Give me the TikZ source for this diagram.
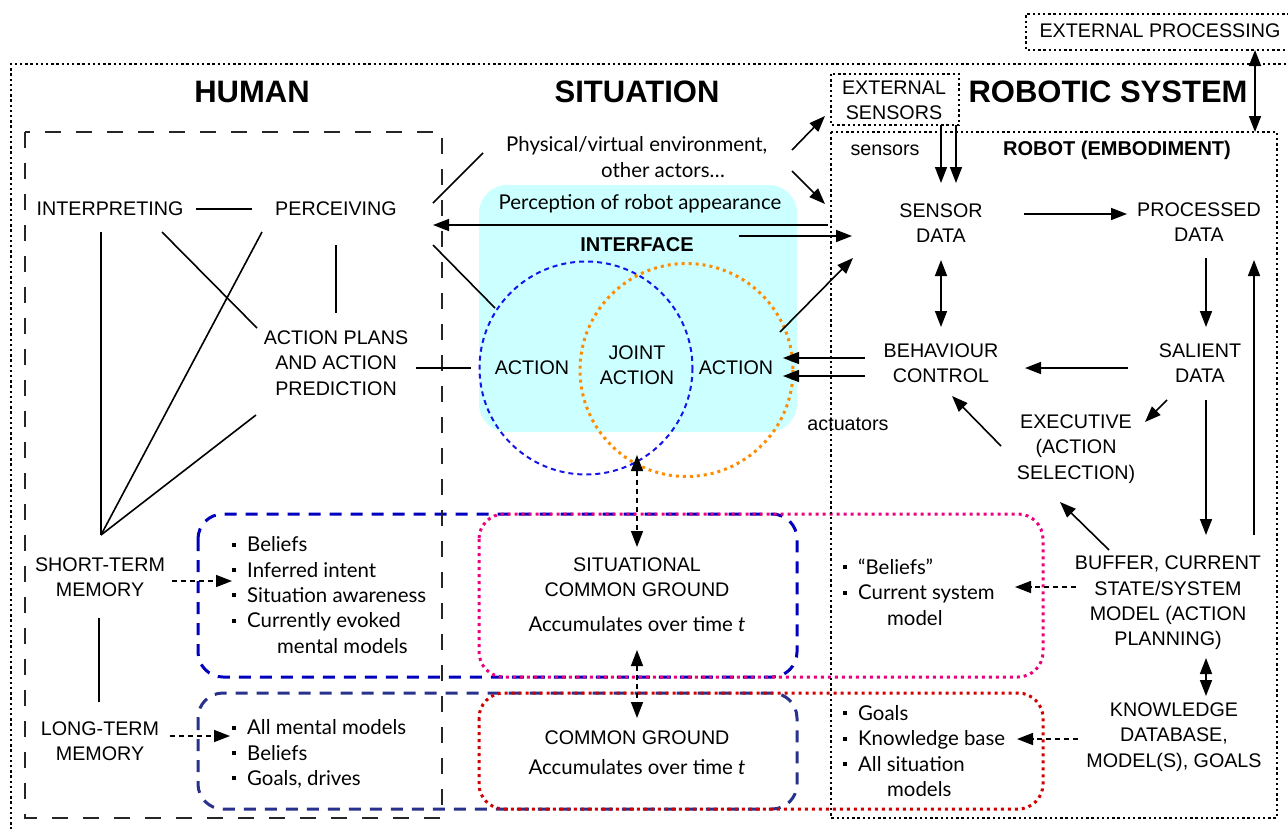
\documentclass[tikz,border=0pt]{standalone}
\usepackage{fontspec}
\setmainfont{Liberation Sans}
\newfontfamily\latof{Lato}
\usetikzlibrary{arrows.meta}
\definecolor{cyanbg}{RGB}{204,255,255}
\definecolor{cblue}{RGB}{20,20,235}
\definecolor{boxblue}{RGB}{0,0,190}
\definecolor{navyc}{RGB}{40,50,140}
\definecolor{pinkc}{RGB}{235,0,125}
\definecolor{redc}{RGB}{210,0,0}
\definecolor{orangec}{RGB}{255,140,0}
\newcommand\bul{\makebox[15pt][l]{\rule[5pt]{4pt}{4pt}}}
\tikzset{
  lab/.style={font=\fontsize{19.7}{25.3}\selectfont, align=center, inner sep=1pt},
  mix/.style={font=\latof\fontsize{20.4}{25.3}\selectfont, align=left, inner sep=1pt},
  hdr/.style={font=\bfseries\fontsize{31}{36}\selectfont, inner sep=1pt},
  bhdr/.style={font=\bfseries\fontsize{20}{24}\selectfont, inner sep=1pt},
  ln/.style={line width=1.6pt},
  tip/.tip={Triangle[length=16pt,width=12pt]},
  arr/.style={line width=1.6pt, -tip},
  darr/.style={line width=1.6pt, tip-tip},
  dasharr/.style={line width=1.5pt, dash pattern=on 5pt off 4pt, -tip},
  ddarr/.style={line width=1.5pt, dash pattern=on 5pt off 4pt, tip-tip},
  blackdots/.style={line width=2.4pt, dash pattern=on 2.4pt off 2.8pt},
  colordots/.style={line width=3pt, dash pattern=on 3pt off 4pt, rounded corners=25pt},
  coldash/.style={line width=3pt, dash pattern=on 12pt off 9pt, rounded corners=25pt},
}
\begin{document}
\begin{tikzpicture}[x=1pt,y=-1pt]
\useasboundingbox (0,0) rectangle (1288,828);

% interface background
\fill[cyanbg, rounded corners=28pt] (479,185) rectangle (797,432);

% circles
\draw[cblue, line width=2pt, dash pattern=on 5pt off 4pt] (586,368) circle[radius=106.5];
\draw[orangec, line width=3pt, dash pattern=on 3pt off 4pt] (686.5,370) circle[radius=106.5];

% memory boxes
\draw[boxblue, coldash] (198,514) rectangle (797,677);
\draw[navyc, coldash] (198,693) rectangle (797,809);
\draw[pinkc, colordots] (479,514) rectangle (1043,677);
\draw[redc, colordots] (479,693) rectangle (1043,809);

% frames
\draw[blackdots] (11,835) -- (11,64) -- (1295,64);
\draw[blackdots] (1295,14) -- (1026,14) -- (1026,50) -- (1295,50);
\draw[blackdots] (831,74) rectangle (959,125);
\draw[blackdots] (831,132) rectangle (1277,818);
\draw[line width=1.2pt, dash pattern=on 16pt off 15pt, black!85] (25,132) rectangle (442,818);

% headers
\node[hdr] (human) at (252,92) {HUMAN};
\node[hdr] (situation) at (637,92) {SITUATION};
\node[hdr] (robsys) at (1108,92) {ROBOTIC SYSTEM};
\node[bhdr] (robot) at (1117,150) {ROBOT (EMBODIMENT)};
\node[bhdr] (iface) at (637,245) {INTERFACE};
\node[lab] (extproc) at (1160,31) {EXTERNAL PROCESSING};
\node[lab] (extsens) at (894,100) {EXTERNAL\\SENSORS};
\node[lab] (sensors) at (885,150) {sensors};
\node[lab] (actuators) at (848,424) {actuators};

% human nodes
\node[lab] (interp) at (110,209) {INTERPRETING};
\node[lab] (perc) at (336,209) {PERCEIVING};
\node[lab] (plans) at (336,363) {ACTION PLANS\\AND ACTION\\PREDICTION};
\node[lab] (stm) at (100,577) {SHORT-TERM\\MEMORY};
\node[lab] (ltm) at (100,741) {LONG-TERM\\MEMORY};

% situation nodes
\node[mix, anchor=west] (env) at (505,157) {Physical/virtual environment,\\\hspace*{95pt}other actors…};
\node[mix] (percapp) at (640,204) {Perception of robot appearance};
\node[lab] (actL) at (532,368) {ACTION};
\node[lab] (joint) at (637,365) {JOINT\\ACTION};
\node[lab] (actR) at (736,368) {ACTION};
\node[lab] (scg) at (637,577) {SITUATIONAL\\COMMON GROUND};
\node[mix] (scgsub) at (637,624) {Accumulates over time \textit{t}};
\node[lab] (cg) at (637,738) {COMMON GROUND};
\node[mix] (cgsub) at (637,767) {Accumulates over time \textit{t}};

% bullet lists
\node[mix, anchor=west] (hstm) at (231,595) {\bul Beliefs\\\bul Inferred intent\\\bul Situation awareness\\\bul Currently evoked\\\hspace*{45pt}mental models};
\node[mix, anchor=west] (hltm) at (231,754) {\bul All mental models\\\bul Beliefs\\\bul Goals, drives};
\node[mix, anchor=west] (rstm) at (842,592) {\bul “Beliefs”\\\bul Current system\\\hspace*{44pt}model};
\node[mix, anchor=west] (rltm) at (842,751) {\bul Goals\\\bul Knowledge base\\\bul All situation\\\hspace*{44pt}models};

% robot nodes
\node[lab] (sensor) at (941,223) {SENSOR\\DATA};
\node[lab] (processed) at (1199,222) {PROCESSED\\DATA};
\node[lab] (salient) at (1200,363) {SALIENT\\DATA};
\node[lab] (behav) at (941,363) {BEHAVIOUR\\CONTROL};
\node[lab] (exec) at (1076,449) {EXECUTIVE\\(ACTION\\SELECTION)};
\node[lab] (buffer) at (1168,603) {BUFFER, CURRENT\\STATE/SYSTEM\\MODEL (ACTION\\PLANNING)};
\node[lab] (know) at (1174,737) {KNOWLEDGE\\DATABASE,\\MODEL(S), GOALS};

% connector end points
\coordinate (interpE) at (196,209); \coordinate (percW) at (252,209);
\coordinate (interpS) at (101,232); \coordinate (apex) at (101,535);
\coordinate (interpSE) at (162,232); \coordinate (plansNW) at (257,328);
\coordinate (percSW) at (262,232);
\coordinate (percS) at (336,245); \coordinate (plansN) at (336,313);
\coordinate (plansSW) at (256,415);
\coordinate (plansE) at (416,368); \coordinate (actLW) at (471,368);
\coordinate (stmS) at (99,618); \coordinate (ltmN) at (99,702);
\coordinate (stmE) at (172,581); \coordinate (hstmW) at (232,581);
\coordinate (ltmE) at (170,736); \coordinate (hltmW) at (230,736);
\coordinate (percNE) at (433,203); \coordinate (envW) at (483,153);
\coordinate (robLeft) at (828,225); \coordinate (percE) at (433,225);
\coordinate (percSE) at (433,245); \coordinate (actLNW) at (495,308);
\coordinate (ifaceE) at (739,236); \coordinate (sensorW) at (852,236);
\coordinate (envNE) at (792,150); \coordinate (extsensSW) at (825,116);
\coordinate (envE) at (792,171); \coordinate (robotNW) at (825,204);
\coordinate (actRNE) at (780,332); \coordinate (sensorSW) at (853,258);
\coordinate (behavW1) at (865,358); \coordinate (actRE1) at (783,358);
\coordinate (behavW2) at (865,376); \coordinate (actRE2) at (783,376);
\coordinate (jointS) at (637,455); \coordinate (scgN) at (637,547);
\coordinate (scgS) at (637,650); \coordinate (cgN) at (637,718);
\coordinate (extsensS1) at (941,125); \coordinate (sensorN1) at (941,183);
\coordinate (extsensS2) at (956,125); \coordinate (sensorN2) at (956,183);
\coordinate (extprocS) at (1255,50); \coordinate (robotTop) at (1255,132);
\coordinate (sensorE) at (1024,214); \coordinate (processedW) at (1127,214);
\coordinate (processedS) at (1206,258); \coordinate (salientN) at (1206,327);
\coordinate (sensorS) at (941,260); \coordinate (behavN) at (941,327);
\coordinate (salientW) at (1128,368); \coordinate (behavE) at (1025,368);
\coordinate (salientSW) at (1167,400); \coordinate (execNE) at (1145,422);
\coordinate (salientS) at (1206,400); \coordinate (bufferN) at (1206,535);
\coordinate (bufferNE) at (1254,535); \coordinate (processedSE) at (1254,260);
\coordinate (execNW) at (1001,446); \coordinate (behavSE) at (952,396);
\coordinate (bufferNW) at (1109,550); \coordinate (execS) at (1060,502);
\coordinate (bufferW) at (1076,587); \coordinate (rstmE) at (1015,587);
\coordinate (knowW) at (1078,739); \coordinate (rltmE) at (1017,739);
\coordinate (bufferS) at (1206,658); \coordinate (knowN) at (1206,696);

% human connectors
\draw[ln] (interpE) -- (percW);
\draw[ln] (interpS) -- (apex);
\draw[ln] (interpSE) -- (plansNW);
\draw[ln] (percSW) -- (apex);
\draw[ln] (percS) -- (plansN);
\draw[ln] (plansSW) -- (apex);
\draw[ln] (plansE) -- (actLW);
\draw[ln] (stmS) -- (ltmN);
\draw[dasharr] (stmE) -- (hstmW);
\draw[dasharr] (ltmE) -- (hltmW);

% situation connectors
\draw[ln] (percNE) -- (envW);
\draw[arr] (robLeft) -- (percE);
\draw[ln] (percSE) -- (actLNW);
\draw[arr] (ifaceE) -- (sensorW);
\draw[arr] (envNE) -- (extsensSW);
\draw[arr] (envE) -- (robotNW);
\draw[arr] (actRNE) -- (sensorSW);
\draw[arr] (behavW1) -- (actRE1);
\draw[arr] (behavW2) -- (actRE2);
\draw[ddarr] (jointS) -- (scgN);
\draw[ddarr] (scgS) -- (cgN);

% robot connectors
\draw[arr] (extsensS1) -- (sensorN1);
\draw[arr] (extsensS2) -- (sensorN2);
\draw[darr] (extprocS) -- (robotTop);
\draw[arr] (sensorE) -- (processedW);
\draw[arr] (processedS) -- (salientN);
\draw[darr] (sensorS) -- (behavN);
\draw[arr] (salientW) -- (behavE);
\draw[arr] (salientSW) -- (execNE);
\draw[arr] (salientS) -- (bufferN);
\draw[arr] (bufferNE) -- (processedSE);
\draw[arr] (execNW) -- (behavSE);
\draw[arr] (bufferNW) -- (execS);
\draw[dasharr] (bufferW) -- (rstmE);
\draw[dasharr] (knowW) -- (rltmE);
\draw[darr] (bufferS) -- (knowN);
\end{tikzpicture}
\end{document}
